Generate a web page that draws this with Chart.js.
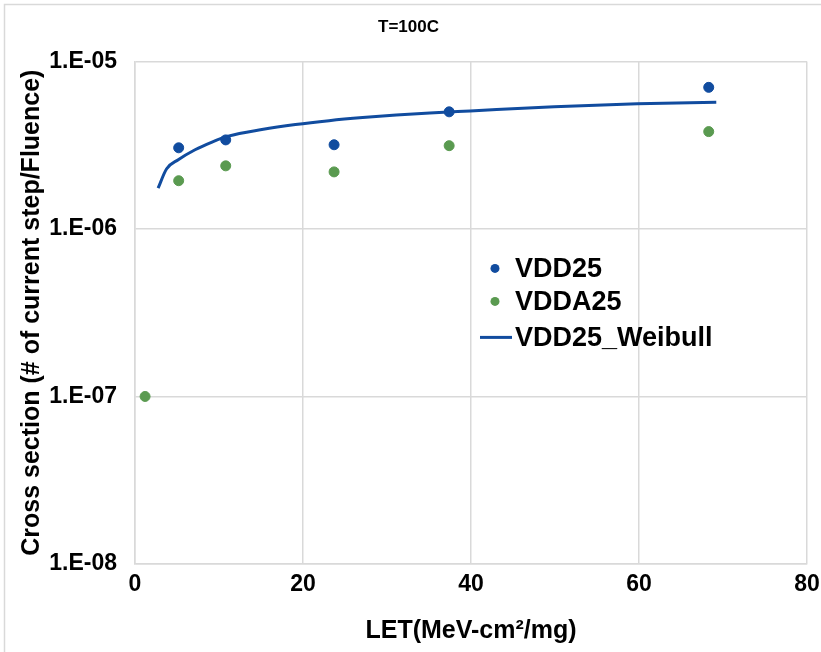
<!DOCTYPE html>
<html lang="en">
<head>
  <meta charset="UTF-8">
  <title>T=100C</title>
  <script src="https://cdn.jsdelivr.net/npm/chart.js"></script>
  <style>
    body {
      margin: 0;
      background-color: #ffffff;
    }

    #wrap {
      width: 821px;
      height: 652px;
    }
  </style>
</head>
<body>

  <div id="wrap">
    <canvas id="myChart" width="821" height="652"></canvas>
  </div>

  <script>
    // LET values (MeV-cm2/mg) and measured cross sections
    var vddLet = [5.2, 10.8, 23.7, 37.4, 68.3];
    var vddSigma = [3.05e-6, 3.4e-6, 3.18e-6, 5.0e-6, 7.0e-6];

    var vddaLet = [1.2, 5.2, 10.8, 23.7, 37.4, 68.3];
    var vddaSigma = [1.0e-7, 1.94e-6, 2.38e-6, 2.19e-6, 3.14e-6, 3.81e-6];

    // Weibull fit curve
    var weibullLet = [2.75, 3.75, 5.15, 7.15, 9.1, 11.1, 15.1, 19.1, 23.1, 27.1, 31.1, 35.1, 39.9, 49.9, 59.8, 69.2];
    var weibullSigma = [1.75e-6, 2.28e-6, 2.59e-6, 2.97e-6, 3.29e-6, 3.58e-6, 3.92e-6, 4.2e-6, 4.43e-6, 4.62e-6, 4.78e-6, 4.92e-6, 5.06e-6, 5.36e-6, 5.58e-6, 5.71e-6];

    var yTickValues = [1e-8, 1e-7, 1e-6, 1e-5];
    var yTickLabels = ['1.E-08', '1.E-07', '1.E-06', '1.E-05'];

    var seriesNames = ['VDD25', 'VDDA25', 'VDD25_Weibull'];

    var blue = '#114c9f';
    var green = '#5a9a50';
    var gridColor = '#d9d9d9';
    var fontFamily = "'Liberation Sans', Arial, sans-serif";

    function toPoints(xs, ys) {
      var pts = [];
      for (var i = 0; i < xs.length; i++) {
        pts.push({ x: xs[i], y: ys[i] });
      }
      return pts;
    }

    // legend inside the plot + light frame round the chart
    var extras = {
      id: 'extras',
      afterDraw: function (chart) {
        var ctx = chart.ctx;
        var area = chart.chartArea;
        ctx.save();

        ctx.strokeStyle = gridColor;
        ctx.lineWidth = 1.5;
        ctx.strokeRect(4.5, 4.5, 840, 700);

        var lx = area.left + 360;
        var tx = area.left + 380;
        var rows = [area.top + 207, area.top + 240, area.top + 276];
        ctx.font = 'bold 27px ' + fontFamily;
        ctx.textBaseline = 'middle';
        ctx.fillStyle = '#000000';

        chart.data.datasets.forEach(function (ds, i) {
          var y = rows[i];
          if (ds.showLine) {
            ctx.strokeStyle = ds.borderColor;
            ctx.lineWidth = 3;
            ctx.beginPath();
            ctx.moveTo(lx - 15, y);
            ctx.lineTo(lx + 17, y);
            ctx.stroke();
          } else {
            ctx.fillStyle = ds.backgroundColor;
            ctx.beginPath();
            ctx.arc(lx, y, 4.5, 0, Math.PI * 2);
            ctx.fill();
          }
          ctx.fillStyle = '#000000';
          ctx.fillText(ds.label, tx, y + 1);
        });

        ctx.restore();
      }
    };

    var ctx = document.getElementById('myChart').getContext('2d');
    var myChart = new Chart(ctx, {
      type: 'scatter',
      data: {
        datasets: [
          {
            label: seriesNames[0],
            data: toPoints(vddLet, vddSigma),
            backgroundColor: blue,
            borderColor: blue,
            pointRadius: 5,
            pointHoverRadius: 5,
            showLine: false
          },
          {
            label: seriesNames[1],
            data: toPoints(vddaLet, vddaSigma),
            backgroundColor: green,
            borderColor: green,
            pointRadius: 5,
            pointHoverRadius: 5,
            showLine: false
          },
          {
            label: seriesNames[2],
            data: toPoints(weibullLet, weibullSigma),
            borderColor: blue,
            backgroundColor: blue,
            borderWidth: 3,
            pointRadius: 0,
            showLine: true,
            cubicInterpolationMode: 'monotone'
          }
        ]
      },
      options: {
        responsive: false,
        animation: false,
        layout: {
          padding: { left: 10, right: 14, top: 0, bottom: 0 }
        },
        plugins: {
          legend: { display: false },
          tooltip: { enabled: false },
          title: {
            display: true,
            text: 'T=100C',
            color: '#000000',
            font: { family: fontFamily, size: 17, weight: 'bold' },
            padding: { top: 17, bottom: 24 }
          }
        },
        scales: {
          x: {
            type: 'linear',
            min: 0,
            max: 80,
            ticks: {
              stepSize: 20,
              color: '#000000',
              padding: 7,
              maxRotation: 0,
              font: { family: fontFamily, size: 23, weight: 'bold' }
            },
            grid: { color: gridColor, lineWidth: 1.5, drawTicks: false },
            border: { color: gridColor, width: 1.5 },
            title: {
              display: true,
              text: 'LET(MeV-cm\u00b2/mg)',
              color: '#000000',
              font: { family: fontFamily, size: 25, weight: 'bold' },
              padding: { top: 0, bottom: 6 }
            },
            afterFit: function (scale) {
              scale.height = 88;
              scale.paddingLeft = 0;
              scale.paddingRight = 0;
            }
          },
          y: {
            type: 'logarithmic',
            min: 1e-8,
            max: 1e-5,
            afterBuildTicks: function (scale) {
              scale.ticks = yTickValues.map(function (v) { return { value: v }; });
            },
            ticks: {
              color: '#000000',
              padding: 18,
              font: { family: fontFamily, size: 23, weight: 'bold' },
              callback: function (value) {
                var i = yTickValues.indexOf(value);
                return i >= 0 ? yTickLabels[i] : '';
              }
            },
            grid: { color: gridColor, lineWidth: 1.5, drawTicks: false },
            border: { color: gridColor, width: 1.5 },
            title: {
              display: true,
              text: 'Cross section (# of current step/Fluence)',
              color: '#000000',
              font: { family: fontFamily, size: 25, weight: 'bold' },
              padding: { top: 7, bottom: 0 }
            },
            afterFit: function (scale) { scale.width = 125; }
          }
        }
      },
      plugins: [extras]
    });
  </script>

</body>
</html>
